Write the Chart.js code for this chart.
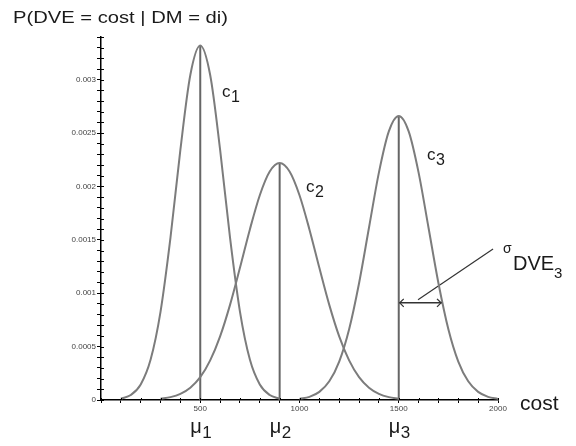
<!DOCTYPE html>
<html><head><meta charset="utf-8">
<script src="https://cdn.jsdelivr.net/npm/chart.js@4/dist/chart.umd.min.js"></script>
<style>html,body{margin:0;padding:0;background:#fff}</style>
</head><body>
<canvas id="c" width="576" height="446"></canvas>
<script>
// ---- data ----
const costs = [0,50,100,150,200,250,300,350,400,450,500,550,600,650,700,750,800,850,900,950,1000,
               1050,1100,1150,1200,1250,1300,1350,1400,1450,1500,1550,1600,1650,1700,1750,1800,1850,1900,1950,2000];
const c1Values = [null,null,0.0000128,0.000047,0.000146,0.000379,0.000828,0.00152,0.002346,0.003044,0.00332,
                  0.003044,0.002346,0.00152,0.000828,0.000379,0.000146,0.000047,0.0000128,null,null,
                  null,null,null,null,null,null,null,null,null,null,null,null,null,null,null,null,null,null,null,null];
const c2Values = [null,null,null,null,null,null,0.0000115,0.0000267,0.0000576,0.0001152,0.000214,
                  0.000371,0.000596,0.000891,0.001238,0.001598,0.001918,0.00214,0.00222,0.00214,0.001918,
                  0.001598,0.001238,0.000891,0.000596,0.000371,0.000214,0.0001152,0.0000576,0.0000267,0.0000115,
                  null,null,null,null,null,null,null,null,null,null];
const c3Values = [null,null,null,null,null,null,null,null,null,null,null,
                  null,null,null,null,null,null,null,null,null,0.0000103,
                  0.0000296,0.000076,0.000175,0.00036,0.000663,0.001094,0.001613,0.00213,0.002516,0.00266,
                  0.002516,0.00213,0.001613,0.001094,0.000663,0.00036,0.000175,0.000076,0.0000296,0.0000103];
const means = [500, 900, 1500];
const peaks = [0.00332, 0.00222, 0.00266];
const subscripts = ['1', '2', '3'];
const yTickLabels = ['0', '0.0005', '0.001', '0.0015', '0.002', '0.0025', '0.003'];
const xTickLabels = ['', '500', '1000', '1500', '2000'];
const sigmaArrow = [{x:1500, y:0.00091}, {x:1718, y:0.00091}];
const sigmaLeader = [{x:1597, y:0.00094}, {x:1975, y:0.001415}];
const curveLabelAnchors = [{x:610, y:0.00284}, {x:1033, y:0.00195}, {x:1642, y:0.00225}];

const curveColor = '#7c7c7c';
const meanColor = '#666666';
const FONT = '"Liberation Sans", Arial, sans-serif';

function pts(vals){ return costs.map((x,i)=>({x:x, y:vals[i]})); }
const curveDs = (vals)=>({data: pts(vals), borderColor: curveColor, borderWidth: 2, pointRadius: 0,
  showLine: true, cubicInterpolationMode: 'monotone', spanGaps: false});
const datasets = [curveDs(c1Values), curveDs(c2Values), curveDs(c3Values)];
means.forEach((m,i)=>datasets.push({data:[{x:m,y:0},{x:m,y:peaks[i]}], borderColor: meanColor,
  borderWidth: 2, pointRadius: 0, showLine: true}));
datasets.push({data: sigmaArrow, borderColor:'#333', borderWidth:1.5, pointRadius:0, showLine:true});
datasets.push({data: sigmaLeader, borderColor:'#333', borderWidth:1.2, pointRadius:0, showLine:true});

function textSub(ctx, main, sub, x, y, mf, sf, dy){
  ctx.font = mf + 'px ' + FONT;
  ctx.fillText(main, x, y);
  const w = ctx.measureText(main).width;
  ctx.font = sf + 'px ' + FONT;
  ctx.fillText(sub, x + w + 0.5, y + dy);
}

const decor = {
  id: 'decor',
  afterDraw(chart){
    const ctx = chart.ctx, xs = chart.scales.x, ys = chart.scales.y, ca = chart.chartArea;
    ctx.save();
    // inner halves of the axis ticks
    ctx.strokeStyle = '#000'; ctx.lineWidth = 1;
    ctx.beginPath();
    ys.ticks.forEach(t=>{ const py = Math.round(ys.getPixelForValue(t.value))+0.5;
      ctx.moveTo(ca.left, py); ctx.lineTo(ca.left+3, py); });
    xs.ticks.forEach(t=>{ const px = Math.round(xs.getPixelForValue(t.value))+0.5;
      ctx.moveTo(px, ca.bottom); ctx.lineTo(px, ca.bottom-2); });
    ctx.stroke();
    // arrow heads
    const ax0 = xs.getPixelForValue(sigmaArrow[0].x), ax1 = xs.getPixelForValue(sigmaArrow[1].x);
    const ay = ys.getPixelForValue(sigmaArrow[0].y);
    ctx.strokeStyle = '#333'; ctx.lineWidth = 1.3;
    ctx.beginPath();
    ctx.moveTo(ax0+5, ay-4); ctx.lineTo(ax0+1, ay); ctx.lineTo(ax0+5, ay+4);
    ctx.moveTo(ax1-5, ay-4); ctx.lineTo(ax1-1, ay); ctx.lineTo(ax1-5, ay+4);
    ctx.stroke();
    // texts
    ctx.fillStyle = '#1a1a1a';
    ctx.textBaseline = 'alphabetic';
    ctx.textAlign = 'left';
    // title (stretched horizontally to the reference width)
    ctx.font = '17px ' + FONT;
    const title = 'P(DVE = cost | DM = di)';
    const tw = ctx.measureText(title).width;
    ctx.save(); ctx.translate(13, 23); ctx.scale(215/tw, 1); ctx.fillText(title, 0, 0); ctx.restore();
    // axis title
    ctx.font = '21px ' + FONT;
    ctx.fillText('cost', ca.right + 22, ca.bottom + 10);
    // curve labels
    curveLabelAnchors.forEach((a,i)=>{
      textSub(ctx, 'c', subscripts[i], xs.getPixelForValue(a.x), ys.getPixelForValue(a.y), 17, 16, 5);
    });
    // mean labels
    means.forEach((m,i)=>{
      textSub(ctx, '\u03bc', subscripts[i], xs.getPixelForValue(m) - 10, ca.bottom + 33, 20, 17, 5);
    });
    // sigma label
    const sx = xs.getPixelForValue(2025);
    ctx.font = '14px ' + FONT; ctx.fillText('\u03c3', sx, 253);
    ctx.font = '20px ' + FONT; ctx.fillText('DVE', sx + 10, 270);
    const dw = ctx.measureText('DVE').width;
    ctx.font = '15px ' + FONT; ctx.fillText('3', sx + 10 + dw, 278);
    ctx.restore();
  }
};

new Chart(document.getElementById('c'), {
  type: 'scatter',
  data: { datasets },
  options: {
    responsive: false, animation: false, devicePixelRatio: 1,
    layout: { padding: { top: 37, right: 78, left: 0, bottom: 0 } },
    plugins: { legend: { display: false }, tooltip: { enabled: false } },
    scales: {
      x: {
        type: 'linear', min: 0, max: 2000,
        afterFit(s){ s.height = 46; },
        border: { display: true, color: '#000', width: 1.5 },
        grid: { display: true, drawOnChartArea: false, drawTicks: true, tickLength: 3, color: '#000', lineWidth: 1 },
        ticks: { stepSize: 100, autoSkip: false, maxRotation: 0, padding: 1, color: '#444',
          font: { size: 8, family: FONT },
          callback(v){ const n = Math.round(v/100); return n % 5 === 0 ? (xTickLabels[n/5] ?? '') : ''; } }
      },
      y: {
        type: 'linear', min: 0, max: 0.0034,
        afterFit(s){ s.width = 101; },
        border: { display: true, color: '#000', width: 1.5 },
        grid: { display: true, drawOnChartArea: false, drawTicks: true, tickLength: 4, color: '#000', lineWidth: 1 },
        ticks: { stepSize: 0.0001, autoSkip: false, padding: 1, color: '#444',
          font: { size: 8, family: FONT },
          callback(v){ const n = Math.round(v*10000); return n % 5 === 0 ? (yTickLabels[n/5] ?? '') : ''; } }
      }
    }
  },
  plugins: [decor]
});
</script>
</body></html>
